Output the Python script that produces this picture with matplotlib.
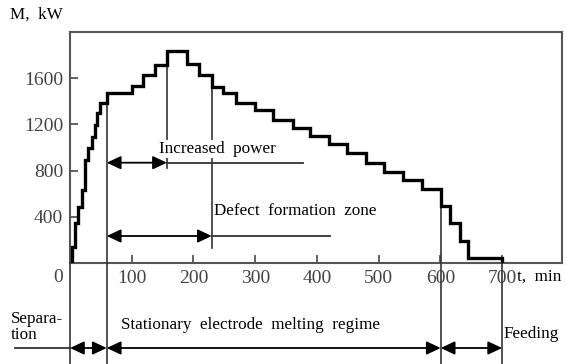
import matplotlib
matplotlib.use("Agg")
import matplotlib.pyplot as plt

# ---- data ----
edges = [3, 8, 13.5, 19, 24, 29, 35, 40.5, 44, 48.6, 59.5, 101, 119, 138, 157,
         190, 209.6, 229.7, 248.5, 269, 300, 329.5, 362, 389, 420, 448.5, 480,
         509, 539, 570, 600.5, 615, 631, 645.5, 700]
power = [141, 346, 487, 632, 892, 996, 1094, 1195, 1299, 1385, 1470, 1530,
         1628, 1714, 1838, 1723, 1628, 1520, 1469, 1388, 1325, 1238, 1166,
         1100, 1030, 950, 868, 790, 719, 645, 494, 349, 193, 41]
xticks = [100, 200, 300, 400, 500, 600, 700]
yticks = [400, 800, 1200, 1600]
t_sep_end = 59.5
t_peak = 157
t_defect_end = 229.7
t_melt_end = 600.5
t_feed_end = 700
xlabel = "t,  min"
ylabel = "M,  kW"

plt.rcParams['font.family'] = ['Liberation Serif', 'DejaVu Serif']

fig = plt.figure(figsize=(5.66, 3.64), dpi=100)
ax = fig.add_axes([70/566, 1-263/364, (562-70)/566, (263-32)/364])
ax.set_xlim(0, 797)
ax.set_ylim(0, 2000)

for s in ax.spines.values():
    s.set_color('#555555')
    s.set_linewidth(1.5)

ax.set_xticks(xticks)
ax.set_yticks(yticks)
ax.tick_params(direction='in', length=6, width=1.3, color='#555555',
               labelsize=14, labelcolor='#444444', pad=5)

ax.stairs(power, edges, baseline=0, color='black', linewidth=2.4,
          joinstyle='miter', zorder=5)

def px2y(py):
    return (263 - py) / 0.1155

def px2x(px):
    return (px - 70) / 0.617

lc = '#333333'
fs = 12.3
bottom = px2y(364)
# vertical guide lines
vlines = [(0, 0, bottom),
          (t_sep_end, 1470, bottom),
          (t_peak, 1838, px2y(168)),
          (t_defect_end, 1520, px2y(248)),
          (t_melt_end, 645, bottom),
          (t_feed_end, 41, bottom)]
for x, y0, y1 in vlines:
    ax.plot([x, x], [y0, y1], color=lc, lw=1.2, clip_on=False, zorder=3)

astyle = dict(arrowstyle='<|-|>,head_length=0.85,head_width=0.4',
              color='black', lw=1.3, shrinkA=0, shrinkB=0)

def darrow(x0, x1, y):
    ax.annotate('', xy=(x1, y), xytext=(x0, y), arrowprops=astyle,
                annotation_clip=False, zorder=4)

# Increased power
y_ip = px2y(162.7)
darrow(t_sep_end, t_peak, y_ip)
ax.plot([t_peak, px2x(303)], [y_ip, y_ip], color=lc, lw=1.3, zorder=3)
ax.text(px2x(159), px2y(149), "Increased  power", fontsize=fs,
        ha='left', va='center', zorder=6,
        bbox=dict(facecolor='white', edgecolor='none', pad=1))

# Defect formation zone
y_df = px2y(236)
darrow(t_sep_end, t_defect_end, y_df)
ax.plot([t_defect_end, px2x(330)], [y_df, y_df], color=lc, lw=1.3, zorder=3)
ax.text(px2x(214), px2y(211), "Defect  formation  zone", fontsize=fs,
        ha='left', va='center', zorder=6)

# bottom regime arrows
y_b = px2y(348)
ax.plot([px2x(15), 0], [y_b, y_b], color=lc, lw=1.3, clip_on=False)
darrow(0, t_sep_end, y_b)
darrow(t_sep_end, t_melt_end, y_b)
darrow(t_melt_end, t_feed_end, y_b)

ax.text(px2x(11), px2y(327), "Separa-\ntion", fontsize=fs, ha='left',
        va='center', linespacing=0.95, clip_on=False)
ax.text(px2x(121), px2y(325), "Stationary  electrode  melting  regime",
        fontsize=fs, ha='left', va='center', clip_on=False)
ax.text(px2x(503), px2y(334), "Feeding", fontsize=fs, ha='left',
        va='center', clip_on=False)
ax.text(px2x(517), px2y(277), xlabel, fontsize=fs, ha='left',
        va='center', clip_on=False)
ax.text(px2x(10), px2y(15), ylabel, fontsize=fs, ha='left',
        va='center', clip_on=False)
ax.text(px2x(58), px2y(278), "0", fontsize=14, color='#444444',
        ha='center', va='center', clip_on=False)

fig.savefig("out.png", dpi=100)
